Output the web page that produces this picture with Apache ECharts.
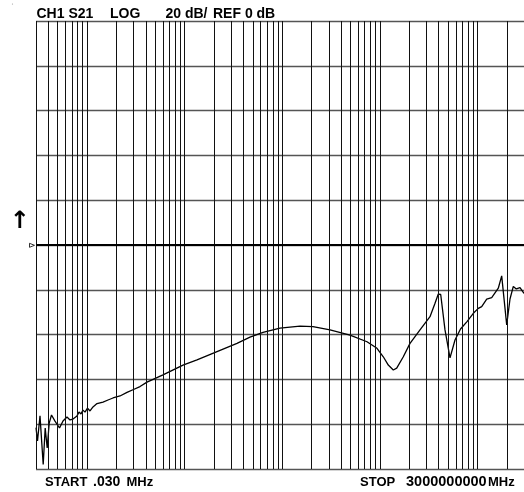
<!DOCTYPE html>
<html>
<head>
<meta charset="utf-8">
<script src="https://cdn.jsdelivr.net/npm/echarts@6/dist/echarts.min.js"></script>
<style>
html,body{margin:0;padding:0;background:#fff;}
#chart{width:524px;height:492px;}
</style>
</head>
<body>
<div id="chart"></div>
<script>
// Frequency sweep (MHz), log axis from START to STOP
const startFreq = 0.03;
const stopFreq = 3000;
// Grid decades and multipliers for the log grid lines
const gridDecades = [0.01, 0.1, 1, 10, 100, 1000];
const gridMultipliers = [1, 2, 3, 4, 5, 6, 7, 8, 9];
// Amplitude axis: 20 dB/div, REF 0 dB at centre
const dbMin = -100;
const dbMax = 100;
const dbPerDiv = 20;
const refLevel = 0;

// Trace S21
const freqMHz = [
  0.0300, 0.03108, 0.03297, 0.03555, 0.03727, 0.03907, 0.04096, 0.04325,
  0.04697, 0.05223, 0.05672, 0.06233, 0.06691, 0.07182, 0.07892, 0.08274,
  0.08674, 0.09092, 0.09532, 0.10111, 0.10725, 0.11512, 0.12651, 0.14575,
  0.16399, 0.18452, 0.21767, 0.25676, 0.29930, 0.3489, 0.4115, 0.6002,
  0.9623, 1.339, 2.146, 3.440, 4.675, 6.353, 9.487, 15.21,
  20.66, 30.86, 49.46, 73.86, 93.5, 108.5, 122.1, 137.4,
  148.9, 174.0, 203.8, 258.0, 326.6, 367.6, 397.3, 420.5,
  465.3, 523.6, 589.2, 670.9, 782.0, 907.3, 1020.9, 1106,
  1244.6, 1400.4, 1636, 1772.5, 1994.6, 2156, 2331, 2502,
  2730, 3000
];
const s21dB = [
  -81.5, -87.5, -76.3, -98.0, -81.7, -90.6, -79.5, -75.9,
  -78.6, -81.7, -78.6, -76.8, -78.1, -77.7, -76.3, -74.6,
  -75.4, -73.7, -74.6, -72.8, -74.1, -72.3, -70.8, -70.1,
  -69.2, -68.3, -67.4, -65.8, -64.5, -63.2, -61.2, -58.0,
  -53.6, -51.3, -47.6, -43.9, -41.1, -39.0, -37.1, -36.2,
  -36.4, -37.9, -40.2, -43.2, -46.1, -49.9, -53.6, -55.8,
  -55.0, -49.9, -43.9, -37.9, -32.0, -26.0, -21.9, -22.1,
  -37.9, -50.4, -42.4, -37.5, -34.2, -30.5, -28.3, -27.5,
  -24.2, -23.5, -19.3, -13.8, -35.7, -24.1, -18.5, -19.6,
  -19.0, -21.6
];

const trace = freqMHz.map((f, i) => [f, s21dB[i]]);

const vLines = [];
gridDecades.forEach(d => {
  gridMultipliers.forEach(m => {
    const f = +(m * d).toPrecision(6);
    if (f >= startFreq - 1e-9 && f <= stopFreq + 1e-9) vLines.push({ xAxis: f });
  });
});

const chart = echarts.init(document.getElementById('chart'), null, { renderer: 'canvas' });
const fontFam = '"Liberation Sans", Arial, sans-serif';
function txt(s, x, y, size) {
  return { type: 'text', x: x, y: y, silent: true,
    style: { text: s, font: 'bold ' + size + 'px ' + fontFam, fill: '#000', verticalAlign: 'middle', align: 'left' } };
}
chart.setOption({
  animation: false,
  backgroundColor: '#fff',
  grid: { left: 36, right: 0, top: 21, bottom: 23 },
  xAxis: {
    type: 'log', logBase: 10, min: startFreq, max: stopFreq,
    axisLabel: { show: false }, axisTick: { show: false }, axisLine: { show: false },
    splitLine: { show: false }
  },
  yAxis: {
    type: 'value', min: dbMin, max: dbMax, interval: dbPerDiv,
    axisLabel: { show: false }, axisTick: { show: false }, axisLine: { show: false },
    splitLine: { show: true, lineStyle: { color: '#555', width: 1.3 } }
  },
  series: [
    {
      type: 'line', data: [], silent: true,
      markLine: {
        silent: true, symbol: 'none', label: { show: false },
        lineStyle: { color: '#111', width: 1, type: 'solid' },
        data: vLines
      }
    },
    {
      type: 'line', data: [], silent: true,
      markLine: {
        silent: true, symbol: 'none', label: { show: false },
        lineStyle: { color: '#000', width: 2, type: 'solid' },
        data: [{ yAxis: refLevel }]
      }
    },
    {
      type: 'line', data: trace, showSymbol: false, silent: true,
      lineStyle: { color: '#000', width: 1.3 }
    }
  ],
  graphic: [
    txt('CH1 S21', 36.5, 14, 14),
    txt('LOG', 110, 14, 14),
    txt('20 dB/', 165.5, 14, 14),
    txt('REF 0 dB', 213, 14, 14),
    txt('START', 45, 482, 13),
    txt('.030', 93, 482, 14),
    txt('MHz', 126.5, 482, 13),
    txt('STOP', 360, 482, 13),
    txt('3000000000', 406, 482, 14.5),
    txt('MHz', 488, 482, 13),
    { type: 'text', x: 19.5, y: 221.5, silent: true,
      style: { text: '↑', font: 'bold 24px "DejaVu Sans"', fill: '#000', align: 'center', verticalAlign: 'middle' } },
    { type: 'polygon', silent: true,
      shape: { points: [[29.5, 243.3], [34.5, 245.3], [29.5, 247.3]] },
      style: { fill: '#fff', stroke: '#000', lineWidth: 0.8 } },
    { type: 'circle', silent: true, shape: { cx: 12.5, cy: 4, r: 0.6 }, style: { fill: '#999' } }
  ]
});
</script>
</body>
</html>
